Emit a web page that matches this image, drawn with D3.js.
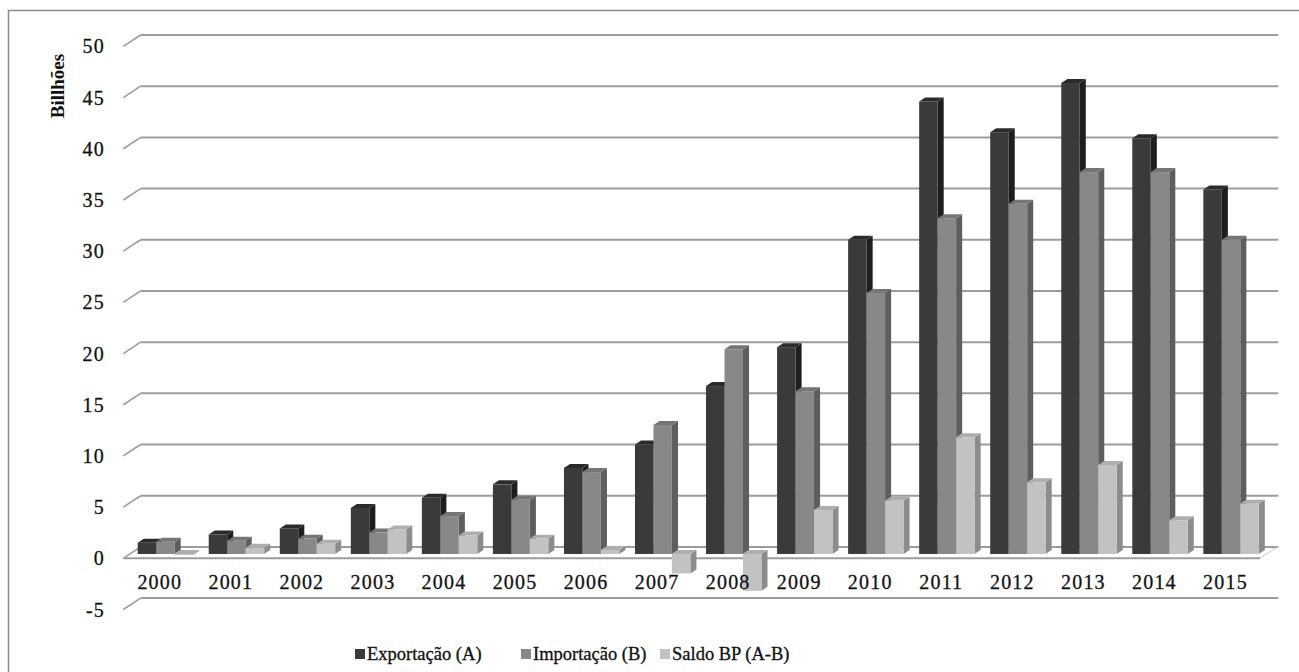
<!DOCTYPE html>
<html>
<head>
<meta charset="utf-8">
<script src="https://cdn.jsdelivr.net/npm/d3@7"></script>
<style>
  html, body { margin: 0; padding: 0; background: #fff; }
  svg { display: block; }
</style>
</head>
<body>
<svg id="chart" width="1299" height="672"></svg>
<script>
// Balança comercial, valores em bilhões
const years = ["2000","2001","2002","2003","2004","2005","2006","2007",
               "2008","2009","2010","2011","2012","2013","2014","2015"];
const exportacao = [1.1, 1.9, 2.5, 4.5, 5.5, 6.8, 8.4, 10.7, 16.4, 20.2, 30.7, 44.2, 41.2, 46.0, 40.6, 35.6];
const importacao = [1.2, 1.3, 1.5, 2.1, 3.7, 5.3, 8.0, 12.6, 20.0, 15.9, 25.5, 32.8, 34.2, 37.3, 37.3, 30.7];
const saldo      = [-0.1, 0.6, 1.0, 2.4, 1.8, 1.5, 0.4, -1.9, -3.6, 4.3, 5.2, 11.4, 7.0, 8.7, 3.3, 4.9];
const seriesNames = ["Exportação (A)", "Importação (B)", "Saldo BP (A-B)"];
const yTicks = [-5, 0, 5, 10, 15, 20, 25, 30, 35, 40, 45, 50];

const FONT = "'Liberation Serif', 'Times New Roman', Times, serif";

// face shades per series: front, top, side
const shades = [
  { front: "#3a3a3a", top: "#2b2b2b", side: "#1e1e1e" },
  { front: "#888888", top: "#757575", side: "#5e5e5e" },
  { front: "#c2c2c2", top: "#aeaeae", side: "#8c8c8c" }
];

const svg = d3.select("#chart");

// oblique depth vector (front of plot -> back wall)
const DX = 17.3, DY = 11.4;
const F0 = 0.38, F1 = 0.73;   // bar depth span (fraction of plot depth)

// value scale on the back wall
const yBack = d3.scaleLinear().domain([-5, 50]).range([598.1, 35]);
const yAt = (v, f) => yBack(v) + (1 - f) * DY;   // y at depth fraction f
const xShift = f => f * DX;

const x = d3.scaleBand().domain(years).range([123.3, 1260])
  .paddingInner(0.22).paddingOuter(0.11);
const xs = d3.scaleBand().domain(d3.range(3)).range([0, x.bandwidth()]);

const gridColor = "#9c9c9c";

// outer frame
svg.append("rect").attr("x", 8.5).attr("y", 10.5)
  .attr("width", 1320).attr("height", 700)
  .attr("fill", "none").attr("stroke", "#8a8a8a").attr("stroke-width", 1.5);

// back wall gridlines + side wall diagonals
const xFrontL = 123.3, xFrontR = 1260;
const grid = svg.append("g");
yTicks.forEach(v => {
  grid.append("line")
    .attr("x1", xFrontL + DX).attr("x2", xFrontR + DX + 1)
    .attr("y1", yBack(v)).attr("y2", yBack(v))
    .attr("stroke", gridColor).attr("stroke-width", 2);
  grid.append("line")
    .attr("x1", xFrontL).attr("y1", yAt(v, 0))
    .attr("x2", xFrontL + DX).attr("y2", yBack(v))
    .attr("stroke", gridColor).attr("stroke-width", 1.6);
});

// floor (value 0) front edge and right edge
grid.append("line")
  .attr("x1", xFrontL).attr("x2", xFrontR)
  .attr("y1", yAt(0, 0)).attr("y2", yAt(0, 0))
  .attr("stroke", gridColor).attr("stroke-width", 2);
grid.append("line")
  .attr("x1", xFrontR).attr("y1", yAt(0, 0))
  .attr("x2", xFrontR + DX).attr("y2", yBack(0))
  .attr("stroke", "#c8c8c8").attr("stroke-width", 1);

const textStyle = sel => sel
  .attr("font-family", FONT).attr("fill", "#111")
  .attr("stroke", "#111").attr("stroke-width", 0.3);

// y axis labels
svg.append("g").selectAll("text").data(yTicks).join("text")
  .attr("x", 105).attr("y", d => yAt(d, 0))
  .attr("dy", "0.35em").attr("text-anchor", "end")
  .attr("font-size", 20).attr("letter-spacing", 1.2)
  .call(textStyle)
  .text(d => d);

// y axis title
svg.append("text")
  .attr("transform", "translate(64,86) rotate(-90)")
  .attr("text-anchor", "middle")
  .attr("font-size", 19).attr("font-weight", "bold")
  .call(textStyle).attr("stroke-width", 0)
  .text("Billhões");

// bars
const allSeries = [exportacao, importacao, saldo];
const barsG = svg.append("g");
years.forEach((yr, i) => {
  allSeries.forEach((vals, s) => {
    const v = vals[i];
    const w = xs.bandwidth();
    const x0 = x(yr) + xs(s) + xShift(F0);
    const ddx = (F1 - F0) * DX, ddy = (F1 - F0) * DY;
    const yv = yAt(v, F0), y0 = yAt(0, F0);
    const yT = Math.min(yv, y0), yB = Math.max(yv, y0);
    const sh = shades[s];
    const g = barsG.append("g");
    // side face
    g.append("polygon")
      .attr("points", [[x0 + w, yT], [x0 + w + ddx, yT - ddy], [x0 + w + ddx, yB - ddy], [x0 + w, yB]].join(" "))
      .attr("fill", sh.side);
    // top face
    g.append("polygon")
      .attr("points", [[x0, yT], [x0 + w, yT], [x0 + w + ddx, yT - ddy], [x0 + ddx, yT - ddy]].join(" "))
      .attr("fill", sh.top);
    // front face
    g.append("rect")
      .attr("x", x0).attr("y", yT)
      .attr("width", w).attr("height", Math.max(yB - yT, 0.6))
      .attr("fill", sh.front);
  });
});

// category labels
svg.append("g").selectAll("text").data(years).join("text")
  .attr("x", d => x(d) + x.bandwidth() / 2 + 1)
  .attr("y", 589)
  .attr("text-anchor", "middle")
  .attr("font-size", 20).attr("letter-spacing", 1.2)
  .call(textStyle)
  .text(d => d);

// legend
const legendX = [355, 521, 660];
const legend = svg.append("g");
seriesNames.forEach((name, s) => {
  legend.append("rect")
    .attr("x", legendX[s]).attr("y", 649)
    .attr("width", 10).attr("height", 10)
    .attr("fill", shades[s].front);
  legend.append("text")
    .attr("x", legendX[s] + 12).attr("y", 660)
    .attr("font-size", 18.5)
    .call(textStyle)
    .text(name);
});
</script>
</body>
</html>
